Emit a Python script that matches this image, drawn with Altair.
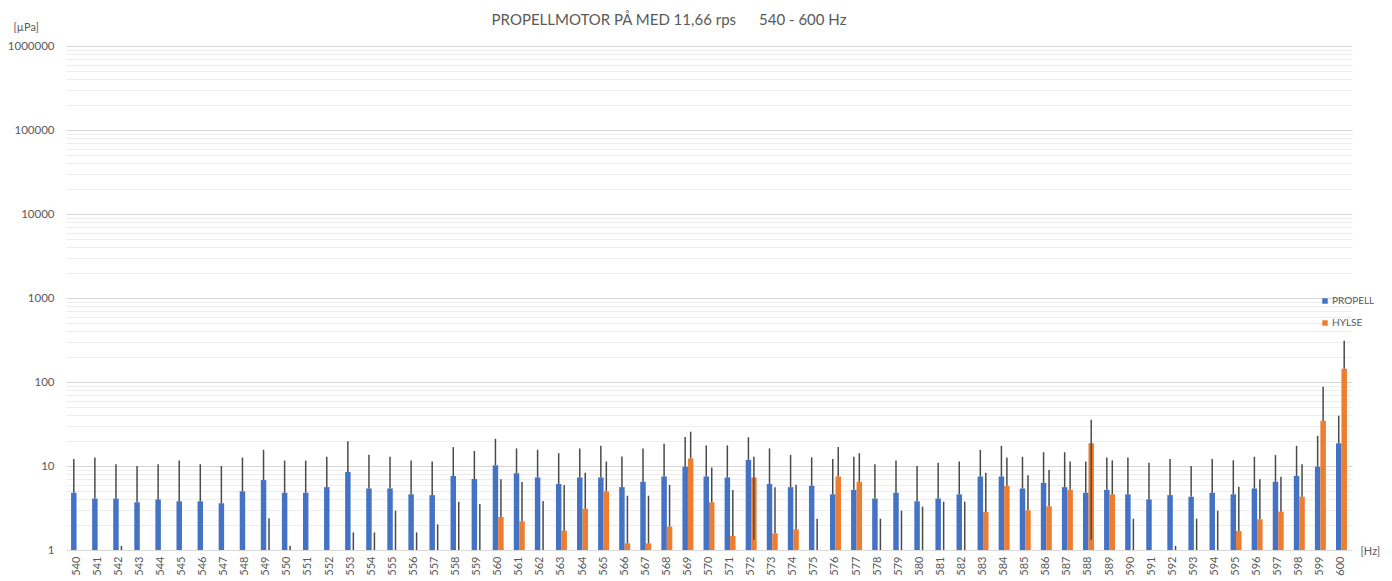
import altair as alt
import pandas as pd

FREQ = [str(f) for f in range(540, 601)]

PROPELL = [4.8, 4.1, 4.1, 3.7, 4.0, 3.8, 3.8, 3.6, 5.0, 6.8,
           4.8, 4.8, 5.6, 8.5, 5.4, 5.4, 4.6, 4.5, 7.6, 7.0,
           10.2, 8.2, 7.3, 6.1, 7.3, 7.3, 5.6, 6.5, 7.5, 9.8,
           7.5, 7.3, 11.8, 6.1, 5.6, 5.8, 4.6, 5.2, 4.1, 4.8,
           3.8, 4.1, 4.6, 7.5, 7.5, 5.4, 6.3, 5.6, 4.8, 5.2,
           4.6, 4.0, 4.5, 4.3, 4.8, 4.6, 5.4, 6.5, 7.6, 9.8,
           18.6]
PROPELL_UP = [12.1, 12.6, 10.5, 10.0, 10.5, 11.6, 10.5, 10.0, 12.6, 15.6,
              11.6, 11.6, 12.9, 19.7, 13.6, 12.9, 11.6, 11.3, 16.8, 15.1,
              21.1, 16.2, 15.6, 14.2, 16.2, 17.4, 13.0, 16.2, 18.4, 22.1,
              17.6, 17.6, 22.0, 16.2, 13.6, 12.7, 12.1, 12.9, 10.5, 11.6,
              10.0, 10.9, 11.3, 15.6, 17.4, 12.9, 14.6, 14.6, 11.3, 12.6,
              12.6, 10.9, 12.1, 10.0, 12.1, 11.7, 12.9, 13.5, 17.4, 22.9,
              39.7]
HYLSE = [None, None, None, None, None, None, None, None, None, None,
         None, None, None, None, None, None, None, None, None, None,
         2.47, 2.2, None, 1.70, 3.1, 5.0, 1.2, 1.2, 1.9, 12.3,
         3.7, 1.47, 7.3, 1.58, 1.76, None, 7.5, 6.5, None, None,
         None, None, None, 2.83, 5.8, 2.97, 3.31, 5.2, 18.6, 4.6,
         None, None, None, None, None, 1.68, 2.32, 2.86, 4.31, 34.6,
         144.0]
HYLSE_UP = [None, None, 1.12, None, None, None, None, None, None, 2.38,
            1.12, None, None, 1.62, 1.62, 2.94, 1.62, 2.02, 3.76, 3.53,
            6.95, 6.45, 3.83, 5.94, 8.32, 11.3, 4.43, 4.43, 5.94, 25.6,
            9.6, 5.18, 12.9, 5.57, 6.0, 2.36, 16.8, 14.2, 2.36, 2.94,
            3.28, 3.76, 3.76, 8.32, 12.6, 7.74, 8.96, 11.3, 35.6, 11.7,
            2.36, None, 1.12, 2.36, 2.94, 5.67, 6.95, 7.46, 10.5, 87.9,
            310.0]
HYLSE_LOW = {"572": 1.32, "588": 1.32}

SERIES = ["PROPELL", "HYLSE"]
COLORS = ["#4472C4", "#ED7D31"]

rows = []
for i, f in enumerate(FREQ):
    for s, vals, ups, lows in [("PROPELL", PROPELL, PROPELL_UP, {}),
                               ("HYLSE", HYLSE, HYLSE_UP, HYLSE_LOW)]:
        v = vals[i]
        u = ups[i]
        lo = lows.get(f, v if v is not None else 1)
        rows.append(dict(freq=f, series=s, value=v, upper=u, lower=lo))
df = pd.DataFrame(rows)

TICKS = [m * 10 ** k for k in range(0, 6) for m in range(1, 10)] + [1000000]
DECADES = "[1,10,100,1000,10000,100000,1000000]"

FONT = "Lato"
GRAY = "#595959"

x_enc = alt.X("freq:N", sort=FREQ,
              scale=alt.Scale(paddingInner=0.48, paddingOuter=0.24),
              axis=alt.Axis(labelAngle=-90, labelAlign="right", labelBaseline="middle",
                            labelFont=FONT, labelFontSize=11, labelColor=GRAY,
                            labelPadding=6, ticks=False, domainColor="#d9d9d9",
                            grid=False, title="[Hz]", titleFont=FONT, titleFontSize=11,
                            titleFontWeight="normal", titleColor=GRAY,
                            titleX=1294, titleY=1, titleAlign="left",
                            titleBaseline="middle", titleAngle=0))
xo_enc = alt.XOffset("series:N", sort=SERIES,
                     scale=alt.Scale(paddingInner=0, paddingOuter=0))

y_scale = alt.Scale(type="log", domain=[1, 1000000])
y_axis = alt.Axis(values=TICKS, domain=False, ticks=False, labelOverlap=False,
                  labelExpr=f"indexof({DECADES}, datum.value) >= 0 ? format(datum.value, 'd') : ''",
                  labelFont=FONT, labelFontSize=11.5, labelColor=GRAY, labelPadding=12,
                  gridColor={"condition": {"test": f"indexof({DECADES}, datum.value) >= 0",
                                           "value": "#d6d6d6"},
                             "value": "#ededed"},
                  title="[µPa]", titleAngle=0, titleX=-53, titleY=-19,
                  titleAlign="left", titleBaseline="middle", titleFont=FONT,
                  titleFontSize=11, titleFontWeight="normal", titleColor=GRAY)

bars = alt.Chart(df).transform_filter("isValid(datum.value)").mark_bar().encode(
    x=x_enc,
    xOffset=xo_enc,
    y=alt.Y("value:Q", scale=y_scale, axis=y_axis),
    y2=alt.datum(1),
    color=alt.Color("series:N", sort=SERIES,
                    scale=alt.Scale(domain=SERIES, range=COLORS),
                    legend=alt.Legend(orient="none", legendX=1254, legendY=250, title=None,
                                      symbolType="square", symbolSize=30,
                                      symbolStrokeWidth=0, labelFont=FONT,
                                      labelFontSize=10, labelColor=GRAY,
                                      rowPadding=12, padding=0, labelOffset=2)),
)

rules = alt.Chart(df).transform_filter("isValid(datum.upper)").mark_rule(
    color="#4a4a4a", strokeWidth=1.5).encode(
    x=x_enc,
    xOffset=xo_enc,
    y=alt.Y("lower:Q", scale=y_scale),
    y2="upper:Q",
)

chart = alt.layer(bars, rules).properties(
    width=1286, height=504,
    padding={"left": 58, "top": 38, "right": 31, "bottom": 26},
    autosize=alt.AutoSizeParams(type="none"),
    title=alt.TitleParams(
        text="PROPELLMOTOR PÅ MED 11,66 rps\u00a0\u00a0\u00a0\u00a0\u00a0 540 - 600 Hz",
        font=FONT, fontSize=15, fontWeight="normal", color=GRAY,
        anchor="middle", dx=-40, offset=-7),
).configure_view(stroke=None)

chart.save("out.html", embed_options={"renderer": "svg", "actions": False})
